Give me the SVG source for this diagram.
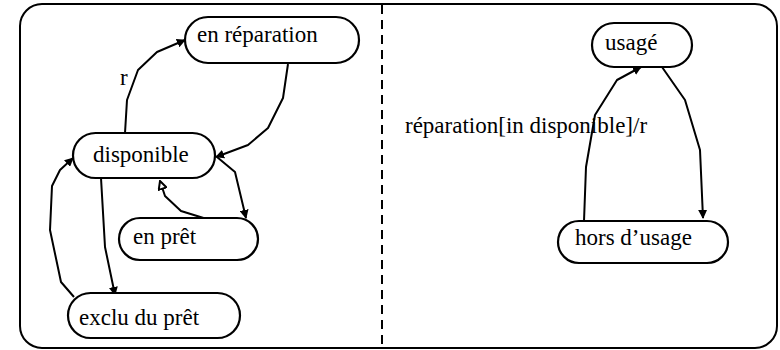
<svg xmlns="http://www.w3.org/2000/svg" width="780" height="350" viewBox="0 0 780 350">
  <style>
    .frame { fill: none; stroke: #000; stroke-width: 2; }
    .divider { fill: none; stroke: #000; stroke-width: 2; stroke-dasharray: 9 6; }
    .state rect { fill: #fff; stroke: #000; stroke-width: 2.2; }
    text { font-family: "Liberation Serif", "DejaVu Serif", "Noto Serif", "Times New Roman", serif; font-size: 23px; fill: #000; }
    .edge { fill: none; stroke: #000; stroke-width: 2; stroke-linejoin: round; }
    .filled { marker-end: url(#arrow); }
    .hollow { marker-end: url(#arrowOpen); }
  </style>
  <defs>
    <marker id="arrow" viewBox="0 0 10 10" refX="9" refY="5" markerWidth="9" markerHeight="9" markerUnits="userSpaceOnUse" orient="auto">
      <path d="M0,0 L10,5 L0,10 Z" fill="#000"/>
    </marker>
    <marker id="arrowOpen" viewBox="0 0 10 10" refX="9" refY="5" markerWidth="10" markerHeight="10" markerUnits="userSpaceOnUse" orient="auto">
      <path d="M1,1 L9,5 L1,9 Z" fill="#fff" stroke="#000" stroke-width="2"/>
    </marker>
  </defs>

  <!-- outer frame and region divider -->
  <rect class="frame" x="20" y="4" width="757" height="344" rx="22"/>
  <line class="divider" x1="382" y1="5" x2="382" y2="348"/>

  <!-- transitions -->
  <g id="connectors">
    <path class="edge filled" d="M125,133 L127,100 L138,70 L157,52 L185,40"/>
    <path class="edge filled" d="M288,64 L283,98 L268,128 L248,145 L216,157"/>
    <path class="edge filled" d="M217,157 L235,172 L246,218"/>
    <path class="edge hollow" d="M210,220 L181,211 L165,196 L160,181"/>
    <path class="edge filled" d="M101,178 L105,247 L115,295"/>
    <path class="edge filled" d="M74,297 L61,282 L50,230 L52,186 L60,170 L73,158"/>
    <path class="edge filled" d="M584,221 L586,167 L595,115 L617,80 L641,67"/>
    <path class="edge filled" d="M662,67 L685,100 L700,150 L703,218"/>
    <text font-family="Liberation Serif, DejaVu Serif, serif" x="120" y="85">r</text>
    <text font-family="Liberation Serif, DejaVu Serif, serif" x="405" y="133">réparation[in disponible]/r</text>
  </g>

  <!-- states -->
  <g id="en-reparation" class="state">
    <rect x="185" y="17" width="174" height="46" rx="23"/>
    <text font-family="Liberation Serif, DejaVu Serif, serif" x="197" y="42">en réparation</text>
  </g>
  <g id="disponible" class="state">
    <rect x="73" y="133" width="142" height="45" rx="22.5"/>
    <text font-family="Liberation Serif, DejaVu Serif, serif" x="93" y="162">disponible</text>
  </g>
  <g id="en-pret" class="state">
    <rect x="119" y="218" width="139" height="42" rx="21"/>
    <text font-family="Liberation Serif, DejaVu Serif, serif" x="133" y="244">en prêt</text>
  </g>
  <g id="exclu-du-pret" class="state">
    <rect x="68" y="293" width="172" height="45" rx="22.5"/>
    <text font-family="Liberation Serif, DejaVu Serif, serif" x="79" y="325">exclu du prêt</text>
  </g>
  <g id="usage" class="state">
    <rect x="592" y="23" width="100" height="44" rx="22"/>
    <text font-family="Liberation Serif, DejaVu Serif, serif" x="605" y="50">usagé</text>
  </g>
  <g id="hors-d-usage" class="state">
    <rect x="558" y="221" width="170" height="42" rx="21"/>
    <text font-family="Liberation Serif, DejaVu Serif, serif" x="575" y="245">hors d’usage</text>
  </g>
</svg>
